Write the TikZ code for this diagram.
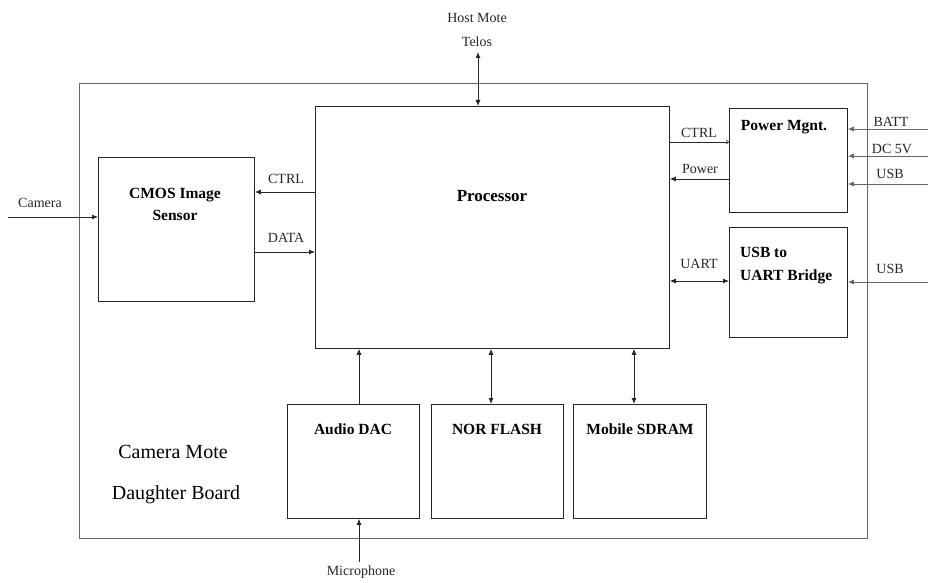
\documentclass[tikz,border=0pt]{standalone}
\usepackage{fontspec}
\setmainfont{Liberation Serif}[BoldFont={Liberation Serif Bold}]
\usetikzlibrary{arrows.meta}
\begin{document}
\begin{tikzpicture}[x=1pt,y=-1pt,
  blk/.style={draw=black!85, line width=0.8pt, anchor=north west, inner sep=0pt},
  lbl/.style={font=\rmfamily\fontsize{14}{15}\selectfont, anchor=base, inner sep=0pt, text=black!85},
  blbl/.style={font=\rmfamily\fontsize{15.5}{16}\selectfont\bfseries, anchor=base, inner sep=0pt},
  big/.style={font=\rmfamily\fontsize{20}{22}\selectfont, anchor=base, inner sep=0pt},
  conn/.style={line width=0.8pt, draw=black!85, -{Latex[length=6pt,width=5pt]}},
  bconn/.style={line width=0.8pt, draw=black!85, {Latex[length=6pt,width=5pt]}-{Latex[length=6pt,width=5pt]}},
  gconn/.style={conn, draw=black!60},
]
\useasboundingbox (0,0) rectangle (928,583);

% blocks
\node[blk, draw=black!60, minimum width=788pt, minimum height=455pt] (board) at (79,83) {};
\node[blk, minimum width=354pt, minimum height=242pt] (proc) at (315,106) {};
\node[blk, minimum width=156pt, minimum height=144pt] (cmos) at (98,157) {};
\node[blk, minimum width=118pt, minimum height=104pt] (pwr) at (729,108) {};
\node[blk, minimum width=118pt, minimum height=110pt] (bridge) at (729,227) {};
\node[blk, minimum width=132pt, minimum height=114pt] (dac) at (287,404) {};
\node[blk, minimum width=132pt, minimum height=114pt] (nor) at (431,404) {};
\node[blk, minimum width=133pt, minimum height=114pt] (sdram) at (573,404) {};

% block labels
\node[blbl, font=\rmfamily\fontsize{17}{18}\selectfont\bfseries] (tproc) at (492,201) {Processor};
\node[blbl] (tcmos1) at (175,198) {CMOS Image};
\node[blbl] (tcmos2) at (175,220) {Sensor};
\node[blbl] (tpwr) at (784,130) {Power Mgnt.};
\node[blbl, anchor=base west] (tbr1) at (740,257) {USB to};
\node[blbl, anchor=base west] (tbr2) at (740,280) {UART Bridge};
\node[blbl] (tdac) at (353,434) {Audio DAC};
\node[blbl] (tnor) at (497,434) {NOR FLASH};
\node[blbl] (tsdram) at (640,434) {Mobile SDRAM};
\node[big] (tboard1) at (173,458) {Camera Mote};
\node[big] (tboard2) at (176,499) {Daughter Board};

% outside labels
\node[lbl] (host) at (477,23) {Host Mote};
\node[lbl] (telos) at (477,47) {Telos};
\node[lbl] (tcam) at (40,207) {Camera};
\node[lbl] (tmic) at (361,575) {Microphone};
\node[lbl] (tbatt) at (891,127) {BATT};
\node[lbl] (tdc) at (892,153) {DC 5V};
\node[lbl] (tusb1) at (890,178) {USB};
\node[lbl] (tusb2) at (890,273) {USB};

% connector labels
\node[lbl] (lctrl1) at (286,183) {CTRL};
\node[lbl] (ldata) at (286,242) {DATA};
\node[lbl] (lctrl2) at (699,137) {CTRL};
\node[lbl] (lpower) at (700,173) {Power};
\node[lbl] (luart) at (699,268) {UART};

% free ends
\coordinate (hostend) at (478,52);
\coordinate (camin) at (8,217);
\coordinate (micend) at (359,562);
\coordinate (battin) at (928,129);
\coordinate (dcin) at (928,156);
\coordinate (usbin) at (928,184);
\coordinate (usbin2) at (928,282);

% connectors
\draw[bconn] (hostend) -- (hostend |- proc.north);
\draw[conn] (camin) -- (camin -| cmos.west);
\draw[conn] (proc.west |- 0,192) -- (cmos.east |- 0,192);
\draw[conn] (cmos.east |- 0,252) -- (proc.west |- 0,252);
\draw[line width=0.6pt, draw=black!85, -{To[length=3pt,width=4pt]}] (proc.east |- 0,142) -- (pwr.west |- 0,142);
\draw[conn] (pwr.west |- 0,179) -- (proc.east |- 0,179);
\draw[bconn] (proc.east |- 0,281) -- (bridge.west |- 0,281);
\draw[gconn] (battin) -- (battin -| pwr.east);
\draw[gconn] (dcin) -- (dcin -| pwr.east);
\draw[gconn] (usbin) -- (usbin -| pwr.east);
\draw[gconn] (usbin2) -- (usbin2 -| bridge.east);
\draw[conn] (359,0 |- dac.north) -- (359,0 |- proc.south);
\draw[bconn] (491,0 |- nor.north) -- (491,0 |- proc.south);
\draw[bconn] (634,0 |- sdram.north) -- (634,0 |- proc.south);
\draw[conn] (micend) -- (micend |- dac.south);
\end{tikzpicture}
\end{document}
